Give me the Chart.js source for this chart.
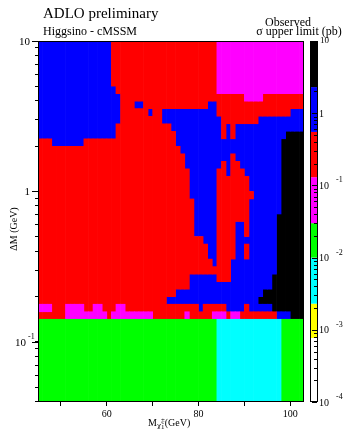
<!DOCTYPE html>
<html><head><meta charset="utf-8">
<script src="https://cdn.jsdelivr.net/npm/chart.js@4.4.1/dist/chart.umd.min.js"></script>
<style>html,body{margin:0;padding:0;background:#fff;}#wrap{position:relative;width:348px;height:429px;}</style>
</head><body><div id="wrap"><canvas id="c" width="348" height="429"></canvas></div>
<script>
// ---- axes ----
const xMin = 45, xMax = 103;          // chargino mass (GeV)
const colStep = 1;                    // GeV per column
const yMinLog = -1.4, yMaxLog = 1.0;  // log10(ΔM / GeV)
const rowStepLog = 0.05;              // decade per row
const xTicks = [50, 60, 70, 80, 90, 100];
const xTickLabels = {60: '60', 80: '80', 100: '100'};
const yTicks = [0.04,0.05,0.06,0.07,0.08,0.09,0.1,0.2,0.3,0.4,0.5,0.6,0.7,0.8,0.9,1,2,3,4,5,6,7,8,9,10];
const yLabels = [{v: 10, base: '10', exp: ''}, {v: 1, base: '1', exp: ''}, {v: 0.1, base: '10', exp: '-1'}];

// ---- observed sigma upper-limit level per cell (run-length coded rows, top row first) ----
// K: >2.3 pb, B: 0.55-2.3, R: 0.13-0.55, M: 0.03-0.13, G: 0.01-0.03, C: 0.0023-0.01, Y, W
const rows = [
  "B16 R23 M19",
  "B16 R23 M19",
  "B16 R23 M19",
  "B16 R23 M19",
  "B16 R23 M19",
  "B16 R23 M19",
  "B17 R22 M19",
  "B18 R27 M4 R9",
  "B18 R3 B2 R14 B2 R19",
  "B18 R6 B1 R2 B12 R16 B3",
  "B18 R9 B13 R8 B10",
  "B17 R12 B11 R1 B1 R1 B15",
  "B17 R13 B10 R1 B1 R1 B11 K4",
  "R3 B7 R20 B23 K5",
  "R31 B22 K5",
  "R32 B10 R1 B10 K5",
  "R32 B8 R1 B1 R2 B9 K5",
  "R33 B6 R2 B1 R3 B8 K5",
  "R33 B6 R7 B7 K5",
  "R33 B6 R7 B7 K5",
  "R33 B6 R8 B6 K5",
  "R34 B5 R7 B7 K5",
  "R34 B5 R7 B7 K5",
  "R34 B5 R7 B6 K6",
  "R34 B5 R4 B2 R1 B6 K6",
  "R34 B5 R4 B2 R1 B6 K6",
  "R36 B3 R4 B9 K6",
  "R37 B2 R4 B2 R1 B6 K6",
  "R37 B2 R4 B2 R1 B6 K6",
  "R38 B1 R3 B10 K6",
  "R42 B10 K6",
  "R33 B6 R3 B9 K7",
  "R33 B18 K7",
  "R30 B19 K9",
  "R28 B20 K10",
  "M3 R3 M4 R2 M2 R3 M2 R16 B1 R5 B4 R1 B5 K7",
  "R6 M9 R1 M9 R7 M1 R5 M3 R1 M2 R8 B3 K3",
  "G39 C14 G5",
  "G39 C14 G5",
  "G39 C14 G5",
  "G39 C14 G5",
  "G39 C14 G5",
  "G39 C14 G5",
  "G39 C14 G5",
  "G39 C14 G5",
  "G39 C14 G5",
  "G39 C14 G5",
  "G39 C14 G5"
];

// ---- colour scale ----
const levelCodes  = ['W', 'Y', 'C', 'G', 'M', 'R', 'B', 'K'];
const levelEdges  = [1e-4, 7.7e-4, 2.3e-3, 1e-2, 3e-2, 0.13, 0.55, 2.3, 10];
const levelColors = {K:'#000000', B:'#0000ff', R:'#ff0000', M:'#ff00ff', G:'#00ff00', C:'#00ffff', Y:'#ffff00', W:'#ffffff'};
const cbMin = 1e-4, cbMax = 10;
const cbLabels = [{v: 10, base: '10', exp: ''}, {v: 1, base: '1', exp: ''}, {v: 0.1, base: '10', exp: '-1'},
                  {v: 0.01, base: '10', exp: '-2'}, {v: 0.001, base: '10', exp: '-3'}, {v: 0.0001, base: '10', exp: '-4'}];

// ---- build column runs as floating bars ----
const grid = rows.map(s => {
  const out = [];
  s.split(' ').forEach(tok => { const c = tok[0], n = +tok.slice(1); for (let i = 0; i < n; i++) out.push(c); });
  return out;
});
const nRows = grid.length;
const nCols = Math.round((xMax - xMin) / colStep);
const cellsByCode = {};
levelCodes.forEach(c => cellsByCode[c] = []);
for (let k = 0; k < nCols; k++) {
  let start = 0;
  for (let r = 1; r <= nRows; r++) {
    const prev = grid[nRows - 1 - start][k];
    const cur = r < nRows ? grid[nRows - 1 - r][k] : null;
    if (cur !== prev) {
      cellsByCode[prev].push({x: xMin + colStep * (k + 0.5),
        y: [Math.pow(10, yMinLog + rowStepLog * start), Math.pow(10, yMinLog + rowStepLog * r)]});
      start = r;
    }
  }
}

const SERIF = '"Liberation Serif", "DejaVu Serif", serif';

const deco = {
  id: 'deco',
  afterDraw(chart) {
    const {ctx, chartArea: a, scales: {y, yc}} = chart;
    ctx.save();
    ctx.strokeStyle = '#000'; ctx.fillStyle = '#000'; ctx.lineWidth = 1;
    // frame
    ctx.strokeRect(Math.round(a.left) + 0.5, Math.round(a.top) + 0.5,
                   Math.round(a.right - a.left) - 1, Math.round(a.bottom - a.top) - 1);
    // y major ticks + labels
    ctx.textBaseline = 'middle';
    yLabels.forEach(L => {
      const py = Math.round(y.getPixelForValue(L.v)) + 0.5;
      ctx.beginPath(); ctx.moveTo(a.left - 6, py); ctx.lineTo(a.left, py); ctx.stroke();
      ctx.font = '11px ' + SERIF; ctx.textAlign = 'right';
      if (L.exp) {
        ctx.fillText(L.base, a.left - 12, py + 1);
        ctx.font = '8px ' + SERIF; ctx.textAlign = 'left';
        ctx.fillText(L.exp, a.left - 10, py - 6);
      } else {
        ctx.fillText(L.base, a.left - 8, py + 1);
      }
    });
    // axis titles
    ctx.font = '10px ' + SERIF; ctx.textAlign = 'center';
    ctx.save(); ctx.translate(14, 229); ctx.rotate(-Math.PI / 2);
    ctx.fillText('ΔM (GeV)', 0, 0); ctx.restore();
    ctx.textAlign = 'left'; ctx.textBaseline = 'alphabetic';
    let tx = 148;
    ctx.font = '10px ' + SERIF; ctx.fillText('M', tx, 426); tx += ctx.measureText('M').width;
    ctx.font = '9px ' + SERIF; ctx.fillText('χ̃', tx, 428); const wc = ctx.measureText('χ').width;
    ctx.font = '7px ' + SERIF; ctx.fillText('±', tx + wc, 422); ctx.fillText('1', tx + wc, 429);
    tx += wc + ctx.measureText('±').width;
    ctx.font = '10px ' + SERIF; ctx.fillText('(GeV)', tx, 426);
    // titles
    ctx.font = '15px ' + SERIF; ctx.fillText('ADLO preliminary', 43, 18);
    ctx.font = '12px ' + SERIF; ctx.fillText('Higgsino - cMSSM', 43, 35);
    ctx.textAlign = 'center';
    ctx.fillText('Observed', 288, 26);
    ctx.fillText('σ upper limit (pb)', 299, 35);
    // colour bar
    const cbL = 310, cbW = 7;
    levelCodes.forEach((c, i) => {
      const p0 = yc.getPixelForValue(levelEdges[i]), p1 = yc.getPixelForValue(levelEdges[i + 1]);
      ctx.fillStyle = levelColors[c]; ctx.fillRect(cbL, p1, cbW, p0 - p1);
    });
    ctx.fillStyle = '#000';
    for (let e = -4; e < 1; e++) for (let m = 1; m < 10; m++) {
      const v = m * Math.pow(10, e);
      const py = Math.round(yc.getPixelForValue(v)) + 0.5;
      const len = m === 1 ? 5 : 3;
      ctx.beginPath(); ctx.moveTo(cbL + cbW, py); ctx.lineTo(cbL + cbW - len, py); ctx.stroke();
    }
    ctx.strokeRect(cbL + 0.5, Math.round(yc.top) + 0.5, cbW, Math.round(yc.bottom - yc.top) - 1);
    ctx.textBaseline = 'middle';
    cbLabels.forEach(L => {
      const py = yc.getPixelForValue(L.v);
      ctx.textAlign = 'left';
      if (L.v === cbMax) { ctx.font = '9px ' + SERIF; ctx.fillText(L.base, cbL + cbW + 3, py); return; }
      ctx.font = '10px ' + SERIF;
      ctx.fillText(L.base, cbL + cbW + 2, py + 1);
      if (L.exp) { ctx.font = '8px ' + SERIF; ctx.fillText(L.exp, cbL + cbW + 19, py - 5); }
    });
    ctx.restore();
  }
};

new Chart(document.getElementById('c'), {
  type: 'bar',
  data: {
    datasets: levelCodes.map(c => ({
      label: c, data: cellsByCode[c], backgroundColor: levelColors[c],
      borderWidth: 0, grouped: false, barPercentage: 1, categoryPercentage: 1
    }))
  },
  options: {
    responsive: false, animation: false, events: [],
    layout: {padding: {left: 0, right: 0, top: 41, bottom: 0}},
    plugins: {legend: {display: false}, tooltip: {enabled: false}},
    scales: {
      x: {
        type: 'linear', min: xMin, max: xMax, offset: false,
        afterBuildTicks: s => { s.ticks = xTicks.map(v => ({value: v})); },
        grid: {drawOnChartArea: false, drawTicks: true, tickLength: 4, color: '#000', offset: false},
        border: {display: false},
        ticks: {callback: v => xTickLabels[v] || '', font: {family: SERIF, size: 10}, color: '#000',
                padding: 2, maxRotation: 0, autoSkip: false},
        afterFit: s => { s.height = 27; }
      },
      y: {
        type: 'logarithmic', min: Math.pow(10, yMinLog), max: Math.pow(10, yMaxLog),
        afterBuildTicks: s => { s.ticks = yTicks.map(v => ({value: v})); },
        grid: {drawOnChartArea: false, drawTicks: true, tickLength: 3, color: '#000'},
        border: {display: false},
        ticks: {display: false},
        afterFit: s => { s.width = 38; }
      },
      yc: {
        type: 'logarithmic', position: 'right', min: cbMin, max: cbMax,
        grid: {display: false}, border: {display: false}, ticks: {display: false},
        afterFit: s => { s.width = 44; }
      }
    }
  },
  plugins: [deco]
});
</script></body></html>
